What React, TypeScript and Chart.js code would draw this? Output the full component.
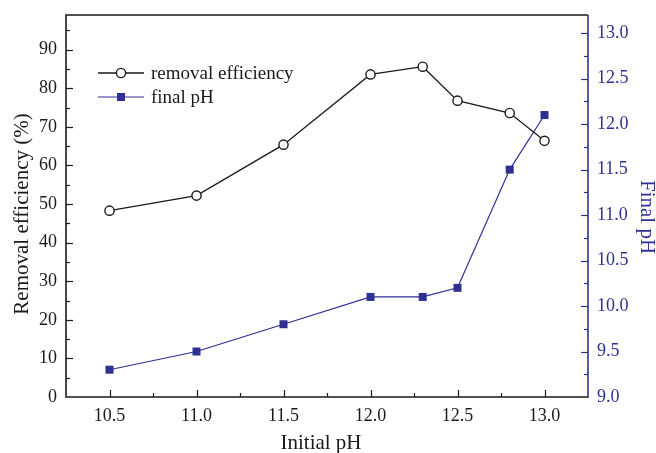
import React, { useEffect, useRef } from 'react';
import { Chart, registerables } from 'chart.js';

Chart.register(...registerables);

// ---- data ----
const initialPH = [10.5, 11.0, 11.5, 12.0, 12.3, 12.5, 12.8, 13.0];
const removalEfficiency = [48.3, 52.2, 65.4, 83.6, 85.6, 76.8, 73.6, 66.4];
const finalPH = [9.3, 9.5, 9.8, 10.1, 10.1, 10.2, 11.5, 12.1];
const seriesNames = ['removal efficiency', 'final pH'];
const axisTitles = { x: 'Initial pH', y: 'Removal efficiency (%)', y1: 'Final pH' };

const BLUE = '#2E3192';
const BLACK = '#1a1a1a';
const FONT = "'Liberation Serif', 'Times New Roman', serif";

const isMultiple = (v: number, step: number) => Math.abs(v / step - Math.round(v / step)) < 1e-6;

const decorPlugin = {
  id: 'decor',
  afterDraw(chart: any) {
    const { ctx, chartArea: a, scales } = chart;
    ctx.save();
    // frame
    ctx.lineWidth = 1.6;
    ctx.strokeStyle = BLACK;
    ctx.beginPath();
    ctx.moveTo(a.right, a.top);
    ctx.lineTo(a.left, a.top);
    ctx.lineTo(a.left, a.bottom);
    ctx.lineTo(a.right, a.bottom);
    ctx.stroke();
    ctx.strokeStyle = BLUE;
    ctx.beginPath();
    ctx.moveTo(a.right, a.top);
    ctx.lineTo(a.right, a.bottom + 0.8);
    ctx.stroke();

    // inward ticks
    ctx.lineWidth = 1.2;
    const y = scales.y;
    ctx.strokeStyle = BLACK;
    y.ticks.forEach((t: any) => {
      if (t.value <= y.min || t.value >= y.max) return;
      const p = Math.round(y.getPixelForValue(t.value)) + 0.5;
      const len = isMultiple(t.value, 10) ? 7 : 4;
      ctx.beginPath();
      ctx.moveTo(a.left, p);
      ctx.lineTo(a.left + len, p);
      ctx.stroke();
    });
    const y1 = scales.y1;
    ctx.strokeStyle = BLUE;
    y1.ticks.forEach((t: any) => {
      if (t.value <= y1.min || t.value >= y1.max) return;
      const p = Math.round(y1.getPixelForValue(t.value)) + 0.5;
      const len = isMultiple(t.value, 0.5) ? 7 : 4;
      ctx.beginPath();
      ctx.moveTo(a.right, p);
      ctx.lineTo(a.right - len, p);
      ctx.stroke();
    });
    const x = scales.x;
    ctx.strokeStyle = BLACK;
    x.ticks.forEach((t: any) => {
      if (t.value <= x.min || t.value >= x.max) return;
      const p = Math.round(x.getPixelForValue(t.value)) + 0.5;
      const len = isMultiple(t.value, 0.5) ? 7 : 4;
      ctx.beginPath();
      ctx.moveTo(p, a.bottom);
      ctx.lineTo(p, a.bottom - len);
      ctx.stroke();
    });

    // legend
    const ds = chart.data.datasets;
    const rows = [73, 97];
    ctx.font = `19px ${FONT}`;
    ctx.textBaseline = 'middle';
    ctx.textAlign = 'left';
    ds.forEach((d: any, i: number) => {
      const ry = rows[i];
      ctx.strokeStyle = d.borderColor;
      ctx.lineWidth = d.borderWidth;
      ctx.beginPath();
      ctx.moveTo(98, ry);
      ctx.lineTo(144, ry);
      ctx.stroke();
      if (d.pointStyle === 'circle') {
        ctx.beginPath();
        ctx.arc(121, ry, d.pointRadius, 0, Math.PI * 2);
        ctx.fillStyle = '#fff';
        ctx.fill();
        ctx.lineWidth = d.pointBorderWidth;
        ctx.strokeStyle = d.pointBorderColor;
        ctx.stroke();
      } else {
        ctx.fillStyle = d.pointBackgroundColor;
        ctx.fillRect(117, ry - 4, 8, 8);
      }
      ctx.fillStyle = BLACK;
      ctx.fillText(d.label, 151, ry + 1);
    });

    // axis titles
    ctx.font = `21px ${FONT}`;
    ctx.textAlign = 'center';
    ctx.textBaseline = 'middle';
    ctx.fillStyle = BLACK;
    ctx.fillText(axisTitles.x, 321, 443);
    ctx.save();
    ctx.translate(22, 214);
    ctx.rotate(-Math.PI / 2);
    ctx.fillText(axisTitles.y, 0, 0);
    ctx.restore();
    ctx.save();
    ctx.fillStyle = BLUE;
    ctx.translate(647, 217);
    ctx.rotate(Math.PI / 2);
    ctx.fillText(axisTitles.y1, 0, 0);
    ctx.restore();

    ctx.restore();
  },
};

export default function App() {
  const ref = useRef<HTMLCanvasElement | null>(null);
  useEffect(() => {
    document.body.style.margin = '0';
    const canvas = ref.current;
    if (!canvas) return;
    const chart = new Chart(canvas, {
      type: 'line',
      data: {
        datasets: [
          {
            label: seriesNames[0],
            data: initialPH.map((x, i) => ({ x, y: removalEfficiency[i] })),
            yAxisID: 'y',
            borderColor: BLACK,
            borderWidth: 1.3,
            pointStyle: 'circle',
            pointRadius: 4.6,
            pointBorderWidth: 1.4,
            pointBorderColor: BLACK,
            pointBackgroundColor: '#fff',
            tension: 0,
          },
          {
            label: seriesNames[1],
            data: initialPH.map((x, i) => ({ x, y: finalPH[i] })),
            yAxisID: 'y1',
            borderColor: BLUE,
            borderWidth: 1.2,
            pointStyle: 'rect',
            pointRadius: 5.66,
            pointBorderWidth: 0,
            pointBorderColor: BLUE,
            pointBackgroundColor: BLUE,
            tension: 0,
          },
        ],
      },
      options: {
        responsive: false,
        animation: false,
        devicePixelRatio: 1,
        layout: { padding: { top: 15, left: 0, right: 0, bottom: 0 } },
        plugins: { legend: { display: false }, tooltip: { enabled: false } },
        scales: {
          x: {
            type: 'linear',
            min: 10.25,
            max: 13.25,
            grid: { display: false, drawTicks: false },
            border: { display: false },
            ticks: {
              stepSize: 0.25,
              autoSkip: false,
              maxRotation: 0,
              padding: 8,
              color: BLACK,
              font: { family: FONT, size: 18 },
              callback: (v: any) => (isMultiple(Number(v), 0.5) && v > 10.25 && v < 13.25 ? Number(v).toFixed(1) : ''),
            },
            afterFit: (s: any) => { s.height = 56; s.paddingLeft = 0; s.paddingRight = 0; },
          },
          y: {
            type: 'linear',
            position: 'left',
            min: 0,
            max: 99,
            grid: { display: false, drawTicks: false },
            border: { display: false },
            ticks: {
              stepSize: 5,
              includeBounds: false,
              autoSkip: false,
              padding: 9,
              color: BLACK,
              font: { family: FONT, size: 18 },
              callback: (v: any) => (isMultiple(Number(v), 10) ? String(v) : ''),
            },
            afterFit: (s: any) => { s.width = 66; s.paddingTop = 0; s.paddingBottom = 0; },
          },
          y1: {
            type: 'linear',
            position: 'right',
            min: 9,
            max: 13.2,
            grid: { display: false, drawTicks: false },
            border: { display: false },
            ticks: {
              stepSize: 0.25,
              includeBounds: false,
              autoSkip: false,
              padding: 9,
              color: BLUE,
              font: { family: FONT, size: 18 },
              callback: (v: any) => (isMultiple(Number(v), 0.5) ? Number(v).toFixed(1) : ''),
            },
            afterFit: (s: any) => { s.width = 68; s.paddingTop = 0; s.paddingBottom = 0; },
          },
        },
      } as any,
      plugins: [decorPlugin],
    });
    return () => chart.destroy();
  }, []);
  return <canvas ref={ref} width={656} height={453} style={{ display: 'block' }} />;
}
